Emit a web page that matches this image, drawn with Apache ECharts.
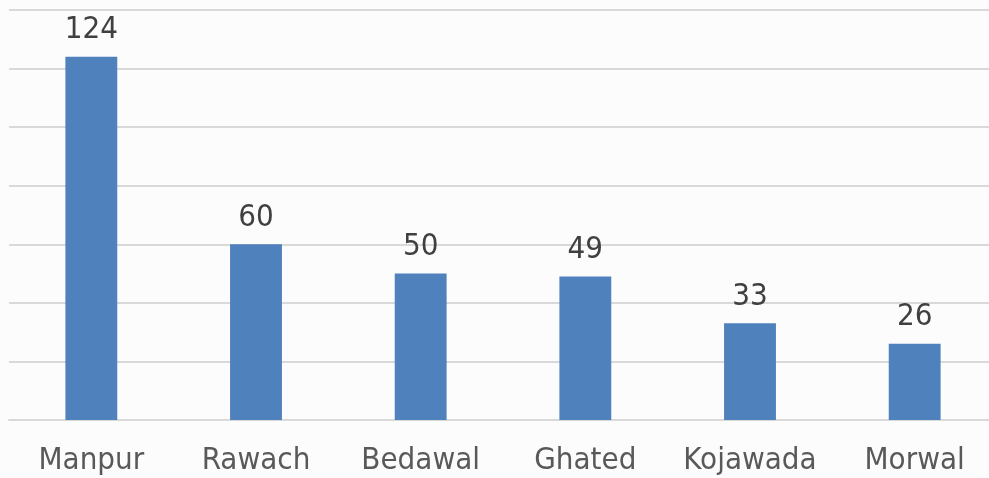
<!DOCTYPE html>
<html>
<head>
<meta charset="utf-8">
<script src="https://cdn.jsdelivr.net/npm/echarts@6/dist/echarts.min.js"></script>
<style>
  html, body { margin: 0; padding: 0; background: #fcfcfc; }
  #chart { width: 989px; height: 478px; }
</style>
</head>
<body>
<div id="chart"></div>
<script>
var categories = ['Manpur', 'Rawach', 'Bedawal', 'Ghated', 'Kojawada', 'Morwal'];
var values = [124, 60, 50, 49, 33, 26];

var myChart = echarts.init(document.getElementById('chart'));
var option = {
	backgroundColor: '#fcfcfc',
	animation: false,
	grid: {
		left: 9,
		top: 10,
		width: 988,
		bottom: 58,
		outerBoundsMode: 'none',
		containLabel: false
	},
	xAxis: {
		type: 'category',
		data: categories,
		axisTick: { show: false },
		axisLine: { lineStyle: { color: '#d9d9d9', width: 2 } },
		axisLabel: {
			interval: 0,
			hideOverlap: false,
			color: '#595959',
			fontFamily: 'DejaVu Sans Condensed',
			fontSize: 31,
			margin: 25
		}
	},
	yAxis: {
		type: 'value',
		min: 0,
		max: 140,
		interval: 20,
		axisLabel: { show: false },
		axisLine: { show: false },
		axisTick: { show: false },
		splitLine: { lineStyle: { color: '#d9d9d9', width: 2 } }
	},
	series: [{
		type: 'bar',
		data: values,
		barWidth: '31.5%',
		itemStyle: { color: '#4f81bd' },
		label: {
			show: true,
			position: 'top',
			distance: 11,
			color: '#404040',
			fontFamily: 'DejaVu Sans Condensed',
			fontSize: 31
		}
	}]
};
myChart.setOption(option);
</script>
</body>
</html>
